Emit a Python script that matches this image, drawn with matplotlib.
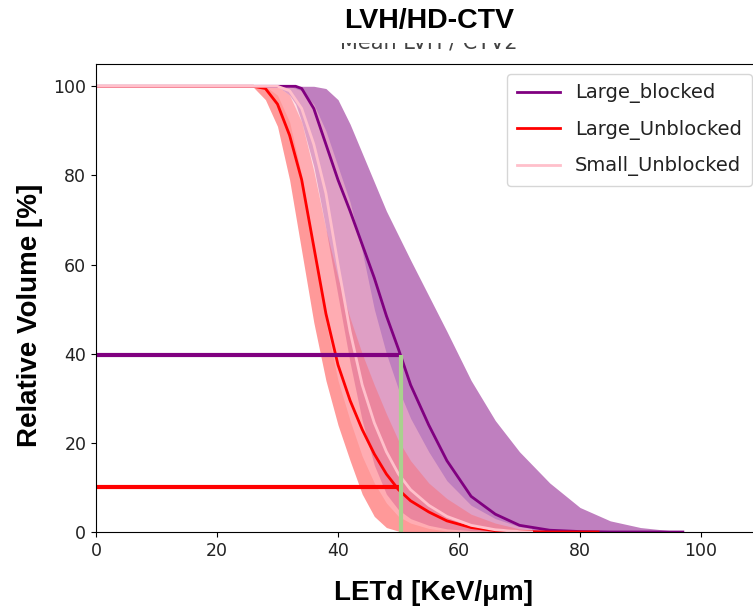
import numpy as np
import matplotlib.pyplot as plt
from matplotlib.patches import Rectangle

# LETd grids and relative volume (%) per group: mean line and band edges
let_blocked = [0, 30, 32, 33, 34, 36, 38, 40, 42, 44, 46, 48, 50, 52, 55, 58, 62, 66, 70, 75, 80, 85, 90, 97]
mean_blocked = [100, 100, 100, 100, 99.5, 95, 87, 79, 72, 64.5, 57, 48.5, 41, 33, 24, 16, 8, 4, 1.5, 0.4, 0.1, 0, 0, 0]
lo_blocked = [100, 100, 98, 96, 92, 82, 68, 53, 38, 25, 15, 8.5, 5, 3, 1.5, 0.7, 0.3, 0.1, 0, 0, 0, 0, 0, 0]
hi_blocked = [100, 100, 100, 100, 100, 100, 99.5, 97, 91.5, 85, 78.5, 72, 66.5, 61, 53, 45, 34, 25, 18, 11, 5.5, 2.5, 1, 0]

let_large = [0, 25, 26, 28, 30, 32, 34, 36, 38, 40, 42, 44, 46, 48, 50, 52, 55, 58, 62, 66, 70, 75, 80, 83]
mean_large = [100, 100, 100, 99.5, 96, 89, 79, 64, 49, 37.5, 29.5, 23, 17.5, 13, 9.5, 7, 4.5, 2.5, 1, 0.3, 0.1, 0, 0, 0]
lo_large = [100, 100, 99.8, 97, 91, 79, 63, 47, 34, 24, 16, 8.5, 3.5, 1, 0.2, 0, 0, 0, 0, 0, 0, 0, 0, 0]
hi_large = [100, 100, 100, 100, 100, 98, 92, 81, 68, 57, 48, 40, 33, 26.5, 20.5, 16, 11, 7.5, 4, 2, 0.7, 0.1, 0, 0]

let_small = [0, 28, 30, 32, 34, 36, 38, 40, 42, 44, 46, 48, 50, 52, 55, 58, 62, 66, 70, 72]
mean_small = [100, 100, 100, 99, 95, 87, 76, 60, 45, 33, 24.5, 18, 13, 9.5, 6, 3.5, 1.5, 0.5, 0.1, 0]
lo_small = [100, 100, 98, 92, 80, 64, 47, 34, 25, 17, 11, 6.5, 3.5, 2, 0.8, 0.2, 0, 0, 0, 0]
hi_small = [100, 100, 100, 100, 99, 96, 90, 82, 74, 63, 50, 40, 32, 25.5, 18, 11.5, 6, 3, 1.2, 0.8]

# reference markers drawn over the plot
let_ref = 50.4
vol_blocked_ref = 39.6
vol_large_ref = 10.2

fig = plt.figure(figsize=(7.53, 6.10), dpi=100)
ax = fig.add_axes([96 / 753, 78 / 610, 665.5 / 753, 468 / 610])

ax.fill_between(let_blocked, lo_blocked, hi_blocked, color="purple", alpha=0.5, lw=0)
ax.fill_between(let_large, lo_large, hi_large, color="red", alpha=0.4, lw=0)
ax.fill_between(let_small, lo_small, hi_small, color="pink", alpha=0.5, lw=0)

ax.plot(let_blocked, mean_blocked, color="purple", lw=2, label="Large_blocked")
ax.plot(let_large, mean_large, color="red", lw=2, label="Large_Unblocked")
ax.plot(let_small, mean_small, color="pink", lw=2, label="Small_Unblocked")

leg = ax.legend(loc="upper right", fontsize=14, handlelength=2.2, labelspacing=0.85, borderpad=0.5)
for t in leg.get_texts():
    t.set_color("#222222")

ax.plot([0, let_ref], [vol_blocked_ref, vol_blocked_ref], color="purple", lw=3, solid_capstyle="butt")
ax.plot([0, let_ref], [vol_large_ref, vol_large_ref], color="red", lw=3, solid_capstyle="butt")
ax.plot([let_ref, let_ref], [0, vol_blocked_ref], color="#a9d18e", lw=3, solid_capstyle="butt")

ax.set_xlim(0, 110)
ax.set_ylim(0, 105)
ax.set_xticks([0, 20, 40, 60, 80, 100])
ax.set_yticks([0, 20, 40, 60, 80, 100])
ax.tick_params(labelsize=12.5, labelcolor="#222222")

ax.set_title("Mean LVH / CTV2", fontsize=15, color="#444444", pad=11)
# top half of the old title is hidden behind a white box
fig.patches.append(Rectangle((0, 1 - 43 / 610), 1, 43 / 610, transform=fig.transFigure,
                             facecolor="white", edgecolor="none", zorder=5))

bold = dict(family="Liberation Sans", weight="bold")
fig.text(429 / 753, 1 - 28 / 610, "LVH/HD-CTV", fontsize=20.5, ha="center", va="baseline", zorder=6, **bold)
fig.text(433 / 753, 1 - 600 / 610, "LETd [KeV/μm]", fontsize=20, ha="center", va="baseline", **bold)
fig.text(30 / 753, 1 - 315 / 610, "Relative Volume [%]", fontsize=20, ha="center", va="center",
         rotation=90, **bold)

fig.savefig("out.png", dpi=100)
